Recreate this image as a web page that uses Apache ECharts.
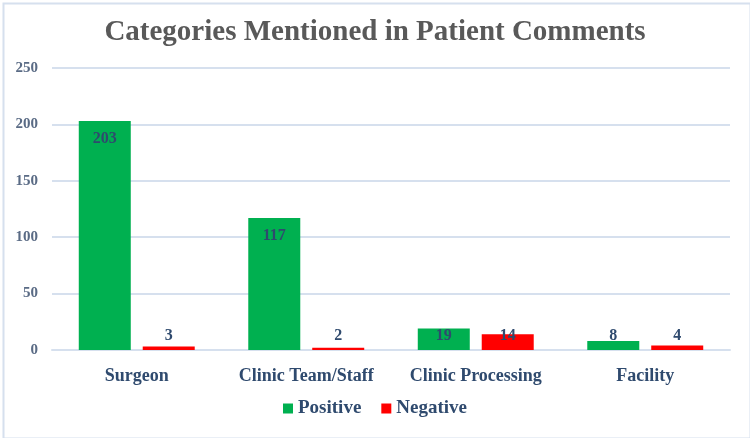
<!DOCTYPE html>
<html><head><meta charset="utf-8">
<script src="https://cdn.jsdelivr.net/npm/echarts@6/dist/echarts.min.js"></script>
<style>html,body{margin:0;padding:0;background:#fff}#c{width:750px;height:438px}</style>
</head><body><div id="c"></div>
<script>
const categories = ['Surgeon', 'Clinic Team/Staff', 'Clinic Processing', 'Facility'];
const positive = [203, 117, 19, 8];
const negative = [3, 2, 14, 4];
const yTicks = [0, 50, 100, 150, 200, 250];

const serif = '"Liberation Serif", "DejaVu Serif", serif';
const labelColor = '#2F4A6E';

function withLabels(values) {
  return values.map(v => ({
    value: v,
    label: v >= 25
      ? { position: 'insideTop', distance: 10 }
      : { position: 'insideBottom', distance: 6 }
  }));
}

const chart = echarts.init(document.getElementById('c'), null, { renderer: 'canvas' });
chart.setOption({
  backgroundColor: '#ffffff',
  animation: false,
  title: {
    text: 'Categories Mentioned in Patient Comments',
    left: 'center', top: 13,
    textStyle: { fontFamily: serif, fontWeight: 'bold', fontSize: 29, color: '#595959' }
  },
  graphic: [{
    type: 'rect', left: 1, top: 1,
    shape: { width: 747, height: 435 },
    style: { fill: 'none', stroke: '#D6E0EE', lineWidth: 2 }, silent: true
  }],
  legend: {
    bottom: 15, left: 'center',
    itemWidth: 10, itemHeight: 10, itemGap: 20,
    icon: 'rect',
    textStyle: { fontFamily: serif, fontWeight: 'bold', fontSize: 19, color: '#2F4A6E' },
    data: ['Positive', 'Negative']
  },
  grid: { left: 52, right: 20, top: 68, bottom: 88, containLabel: false },
  xAxis: {
    type: 'category', data: categories,
    axisLine: { lineStyle: { color: '#D6E0EE', width: 2 } },
    axisTick: { show: false },
    axisLabel: { interval: 0, fontFamily: serif, fontWeight: 'bold', fontSize: 18, color: '#2F4A6E', margin: 17 }
  },
  yAxis: {
    type: 'value', min: yTicks[0], max: yTicks[yTicks.length - 1], interval: 50,
    axisLine: { show: false }, axisTick: { show: false },
    splitLine: { lineStyle: { color: '#D6E0EE', width: 2 } },
    axisLabel: { fontFamily: serif, fontWeight: 'bold', fontSize: 15, color: '#5A6B85', margin: 14 }
  },
  series: [
    {
      name: 'Positive', type: 'bar', data: withLabels(positive),
      barWidth: 52, barGap: '23%',
      itemStyle: { color: '#00B050' },
      label: { show: true, fontFamily: serif, fontWeight: 'bold', fontSize: 16, color: labelColor }
    },
    {
      name: 'Negative', type: 'bar', data: withLabels(negative),
      barWidth: 52,
      itemStyle: { color: '#FF0000' },
      label: { show: true, fontFamily: serif, fontWeight: 'bold', fontSize: 16, color: labelColor }
    }
  ]
});
</script>
</body></html>
